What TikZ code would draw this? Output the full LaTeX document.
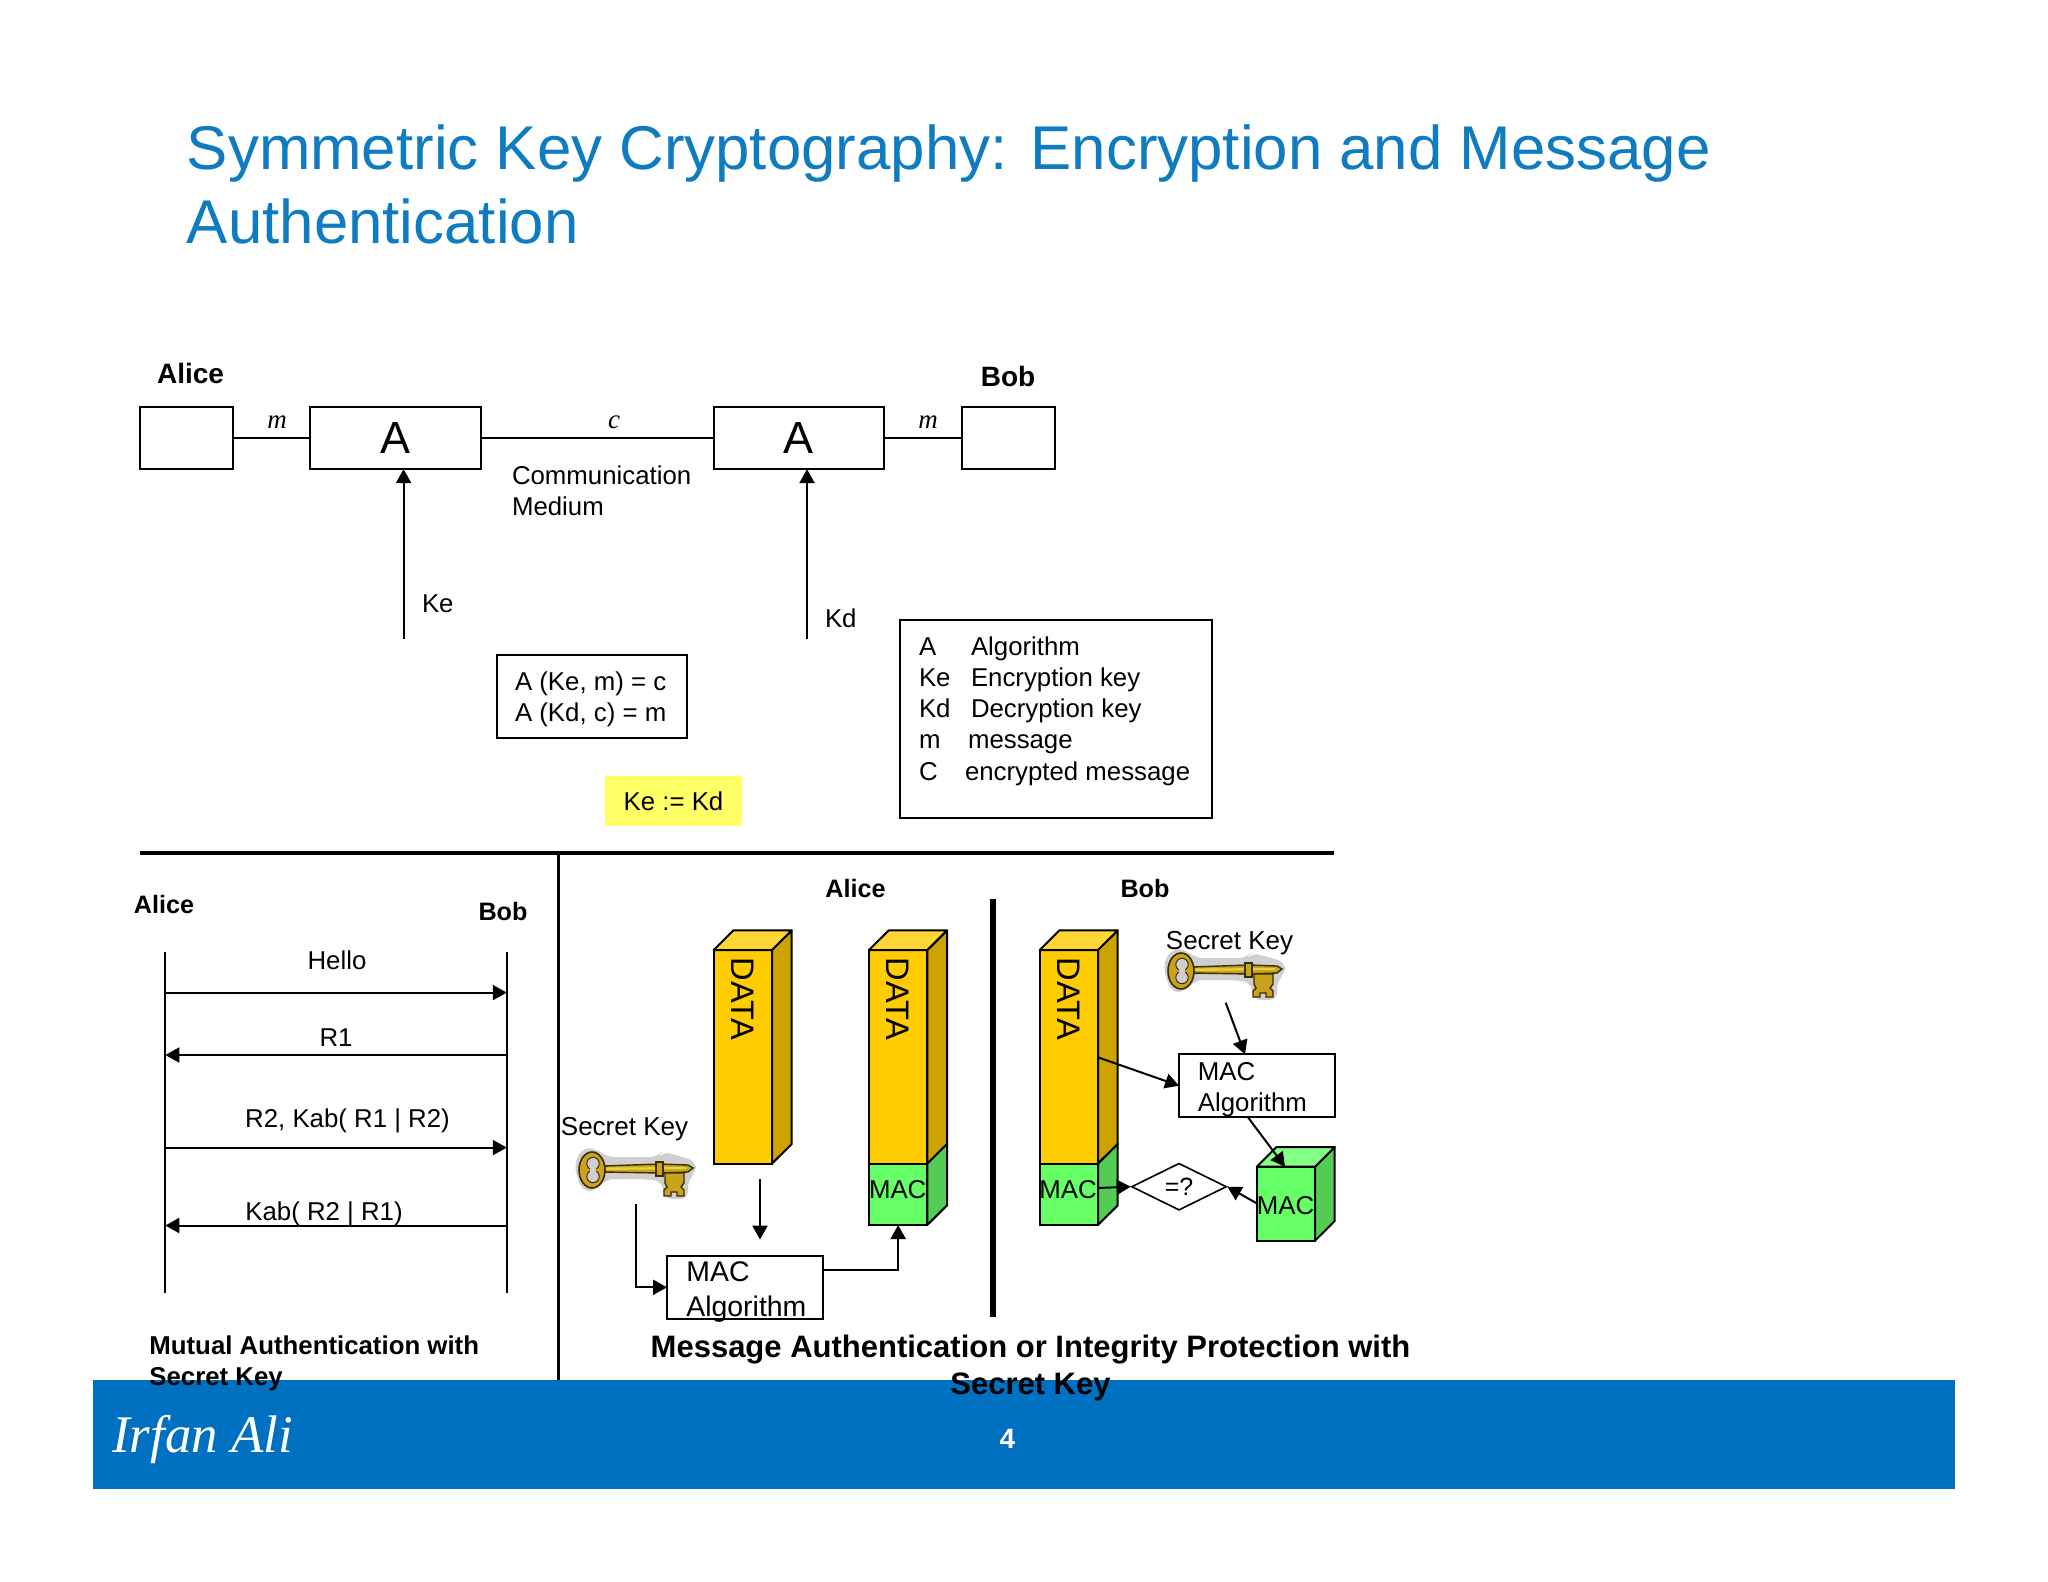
\documentclass[tikz,border=0pt]{standalone}
\usepackage{fontspec}
\setmainfont{Liberation Sans}
\newfontfamily\serifit{Liberation Serif}
\usetikzlibrary{arrows.meta,shapes.geometric,calc}

\definecolor{titleblue}{HTML}{0F7BC0}
\definecolor{banner}{HTML}{0070C0}
\definecolor{notey}{HTML}{FFFF66}
\definecolor{datafront}{HTML}{FFCC00}
\definecolor{datatop}{HTML}{FFD633}
\definecolor{dataside}{HTML}{CCA300}
\definecolor{macfront}{HTML}{66FF66}
\definecolor{mactop}{HTML}{85FF85}
\definecolor{macside}{HTML}{52CC52}
\definecolor{keygold}{HTML}{C9A21E}
\definecolor{keylight}{HTML}{E6D23C}
\definecolor{keydark}{HTML}{3A2C05}
\definecolor{keyhalo}{HTML}{CFCFCF}

\tikzset{
  x=0.5pt, y=-0.5pt,
  box/.style={draw=black, line width=1pt, inner sep=0pt, outer sep=0pt, fill=white},
  conn/.style={draw=black, line width=1pt},
  arr/.style={draw=black, line width=1pt, -{Triangle[length=7pt,width=7.5pt]}},
  lbl/.style={inner sep=0pt, outer sep=0pt, font=\fontsize{12.9pt}{15.5pt}\selectfont, align=left},
  lblc/.style={lbl, anchor=center},
  lblw/.style={lbl, anchor=west},
  lglbl/.style={lbl, anchor=base west},
  person/.style={inner sep=0pt, font=\bfseries\fontsize{14pt}{17pt}\selectfont},
  personsm/.style={inner sep=0pt, font=\bfseries\fontsize{12.6pt}{15pt}\selectfont},
  capt/.style={inner sep=0pt, font=\bfseries\fontsize{12.9pt}{15.5pt}\selectfont, align=left, anchor=west},
  mactext/.style={inner sep=0pt, font=\fontsize{12.9pt}{16pt}\selectfont},
  datatext/.style={inner sep=0pt, rotate=-90, font=\fontsize{16.3pt}{18pt}\selectfont},
  ital/.style={inner sep=0pt, font=\serifit\itshape\fontsize{13.5pt}{16pt}\selectfont},
  face/.style={draw=black, line width=1pt, line join=round},
  key/.pic={
    \fill[keyhalo, rounded corners=4pt] (-2,18) -- (4,1) -- (18,-2) -- (30,8) -- (82,8) -- (86,3)
      -- (96,5) -- (120,12) -- (120,24) -- (112,30) -- (112,50) -- (88,50) -- (86,32) -- (66,30)
      -- (30,30) -- (20,42) -- (6,42) -- cycle;
    \filldraw[fill=keygold, draw=keydark, line width=.7pt] (27,17) -- (84,15) -- (112,16) -- (117,19)
      -- (112,23) -- (84,24) -- (27,23) -- cycle;
    \fill[keylight] (30,18.5) -- (110,18) -- (110,20) -- (30,21) -- cycle;
    \filldraw[fill=keygold, draw=keydark, line width=.7pt] (80,13) -- (87,13) -- (87,27) -- (80,27) -- cycle;
    \filldraw[fill=keygold, draw=keydark, line width=.7pt] (89,24) -- (108,24) -- (108,34) -- (105,38)
      -- (108,41) -- (108,47) -- (101,47) -- (101,43) -- (95,43) -- (95,47) -- (88,47) -- (88,41)
      -- (91,38) -- (89,34) -- cycle;
    \filldraw[fill=keygold, draw=keydark, line width=.8pt] (16,21) ellipse [x radius=6.5pt, y radius=9pt];
    \filldraw[fill=keyhalo, draw=keydark, line width=.5pt] (17,14.5) circle [radius=3.1pt] (17,27.5) circle [radius=3.1pt];
    \fill[keyhalo] (14,12) rectangle (20,30);
  },
}

\begin{document}
\begin{tikzpicture}
\useasboundingbox[fill=white] (0,0) rectangle (2048,1582);

% title
\node[inner sep=0pt, anchor=west, align=left, text=titleblue, font=\fontsize{30.9pt}{37.3pt}\selectfont]
  (title) at (186.5,184.5) {Symmetric Key Cryptography: Encryption and Message\\Authentication};

% symmetric encryption row
\node[person] (alice1) at (190.5,373) {Alice};
\node[person] (bob1) at (1008,376) {Bob};
\node[box, minimum width=46.9pt, minimum height=31.2pt] (src) at (186.5,437.9) {};
\node[box, minimum width=85.3pt, minimum height=31.2pt, font=\fontsize{22.5pt}{26pt}\selectfont] (enc) at (395.5,437.9) {A};
\node[box, minimum width=85pt, minimum height=31.2pt, font=\fontsize{22.5pt}{26pt}\selectfont] (dec) at (798.5,437.9) {A};
\node[box, minimum width=46.5pt, minimum height=31.2pt] (dst) at (1008.7,437.9) {};
\draw[conn] (src) -- (enc);
\draw[conn] (enc) -- (dec);
\draw[conn] (dec) -- (dst);
\node[ital] (m1) at (277,422) {m};
\node[ital] (c1) at (614,422) {c};
\node[ital] (m2) at (928,422) {m};
\node[lblw] (medium) at (512,491) {Communication\\Medium};
\coordinate (kefrom) at (403.6,639);
\coordinate (kdfrom) at (807,639);
\draw[arr] (kefrom) -- (kefrom |- enc.south);
\draw[arr] (kdfrom) -- (kdfrom |- dec.south);
\node[lblw] (ke) at (422,604) {Ke};
\node[lblw] (kd) at (825,618) {Kd};

% equations and legend
\node[box, minimum width=95.2pt, minimum height=41.6pt] (eqbox) at (592.2,696.3) {};
\node[lblw] (eq) at (515,699) {A (Ke, m) = c\\A (Kd, c) = m};
\node[fill=notey, inner sep=0pt, minimum width=68.5pt, minimum height=25pt] (note) at (673.5,801)
  {\fontsize{12.9pt}{15.5pt}\selectfont Ke := Kd};
\node[box, minimum width=156pt, minimum height=99pt] (legend) at (1055.8,719) {};
\node[lglbl] (la) at (919,655) {A};
\node[lglbl] (lb) at (919,686) {Ke};
\node[lglbl] (lc) at (919,717) {Kd};
\node[lglbl] (ld) at (919,748.5) {m};
\node[lglbl] (le) at (919,780) {C};
\node[lglbl] (ta) at (971,655) {Algorithm};
\node[lglbl] (tb) at (971,686) {Encryption key};
\node[lglbl] (tc) at (971,717) {Decryption key};
\node[lglbl] (td) at (968,748.5) {message};
\node[lglbl] (te) at (965,780) {encrypted message};

% dividers
\draw[black, line width=2pt] (139.6,852.6) -- (1334,852.6);
\draw[black, line width=1.8pt] (558.5,852) -- (558.5,1382);
\draw[black, line width=3pt] (992.7,899) -- (992.7,1317);

% mutual authentication
\node[personsm] (alice2) at (164,904.5) {Alice};
\node[personsm] (bob2) at (503,911.5) {Bob};
\coordinate (a0) at (165.3,952);
\coordinate (a1) at (165.3,1293);
\coordinate (b0) at (506.8,952);
\coordinate (b1) at (506.8,1293);
\draw[conn] (a0) -- (a1);
\draw[conn] (b0) -- (b1);
\coordinate (y1) at (0,992.6);
\coordinate (y2) at (0,1055);
\coordinate (y3) at (0,1147.6);
\coordinate (y4) at (0,1225.5);
\draw[arr] (a0 |- y1) -- (b0 |- y1);
\draw[arr] (b0 |- y2) -- (a0 |- y2);
\draw[arr] (a0 |- y3) -- (b0 |- y3);
\draw[arr] (b0 |- y4) -- (a0 |- y4);
\node[lblc] (hello) at (337,960) {Hello};
\node[lblc] (r1) at (336,1038) {R1};
\node[lblc] (r2) at (347.5,1120.5) {R2, Kab( R1 | R2)};
\node[lblc] (kab) at (324,1213.5) {Kab( R2 | R1)};

% message authentication, Alice
\node[personsm] (alice3) at (855.5,888.5) {Alice};
\node[personsm] (bob3) at (1145,888.5) {Bob};
\node[box, fill=datafront, minimum width=29.15pt, minimum height=106.8pt] (d1) at (742.85,1056.8) {};
\filldraw[face, fill=dataside] (d1.north east) -- ++(19.7,-19.6) -- ++(0,213.6) -- (d1.south east) -- cycle;
\filldraw[face, fill=datatop] (d1.north west) -- ++(19.7,-19.6) -- ++(58.3,0) -- (d1.north east) -- cycle;
\node[datatext] (dt1) at (742.3,999) {DATA};

\node[box, fill=datafront, minimum width=29.15pt, minimum height=106.8pt] (d2) at (898.15,1056.8) {};
\filldraw[face, fill=dataside] (d2.north east) -- ++(19.7,-19.6) -- ++(0,213.6) -- (d2.south east) -- cycle;
\filldraw[face, fill=datatop] (d2.north west) -- ++(19.7,-19.6) -- ++(58.3,0) -- (d2.north east) -- cycle;
\node[box, fill=macfront, minimum width=29.15pt, minimum height=30.7pt] (g2) at (898.15,1194.3) {};
\filldraw[face, fill=macside] (g2.north east) -- ++(19.7,-19.6) -- ++(0,61.4) -- (g2.south east) -- cycle;
\node[datatext] (dt2) at (897.6,999) {DATA};
\node[mactext] (mt2) at (897.7,1190) {MAC};

\node[lblc, font=\fontsize{13pt}{15pt}\selectfont] (sk1) at (624.5,1129.5) {Secret Key};
\pic at (576,1149) {key};
\node[box, minimum width=77.8pt, minimum height=31.3pt] (alg1) at (744.8,1287.3) {};
\node[mactext, anchor=west, align=left, font=\fontsize{14.2pt}{17.3pt}\selectfont] (algt1) at (686,1292) {MAC\\Algorithm};
\coordinate (datadown) at (760,1179);
\coordinate (downend) at (760,1239.6);
\coordinate (keydown) at (636.3,1204);
\draw[arr] (datadown) -- (downend);
\draw[arr] (keydown) |- (alg1.west);
\draw[arr] ($(alg1.north east)!0.22!(alg1.south east)$) -| (g2.south);

% message authentication, Bob
\node[box, fill=datafront, minimum width=29.15pt, minimum height=106.8pt] (d3) at (1068.85,1056.8) {};
\filldraw[face, fill=dataside] (d3.north east) -- ++(19.7,-19.6) -- ++(0,213.6) -- (d3.south east) -- cycle;
\filldraw[face, fill=datatop] (d3.north west) -- ++(19.7,-19.6) -- ++(58.3,0) -- (d3.north east) -- cycle;
\node[box, fill=macfront, minimum width=29.15pt, minimum height=30.7pt] (g3) at (1068.85,1194.3) {};
\filldraw[face, fill=macside] (g3.north east) -- ++(19.7,-19.6) -- ++(0,61.4) -- (g3.south east) -- cycle;
\node[datatext] (dt3) at (1068.3,999) {DATA};
\node[mactext] (mt3) at (1068,1189.5) {MAC};

\pic at (1165,950) {key};
\node[lblc, font=\fontsize{13pt}{15pt}\selectfont] (sk2) at (1229.5,943.5) {Secret Key};
\node[box, minimum width=77.8pt, minimum height=31.4pt] (alg2) at (1256.9,1085.7) {};
\node[mactext, anchor=west, align=left, font=\fontsize{12.9pt}{15.5pt}\selectfont] (algt2) at (1197.5,1090) {MAC\\Algorithm};

\node[box, fill=macfront, minimum width=29.15pt, minimum height=37pt] (m3) at (1285.85,1203.7) {};
\filldraw[face, fill=macside] (m3.north east) -- ++(19.7,-19.6) -- ++(0,74) -- (m3.south east) -- cycle;
\filldraw[face, fill=mactop] (m3.north west) -- ++(19.7,-19.6) -- ++(58.3,0) -- (m3.north east) -- cycle;
\node[mactext] (mt4) at (1285.5,1205.5) {MAC};

\node[diamond, draw=black, line width=.8pt, fill=white, inner sep=0pt, aspect=2, minimum width=47.5pt, minimum height=23.5pt] (cmp) at (1179,1186.7)
  {\fontsize{12.5pt}{15pt}\selectfont =?};

\coordinate (keyto) at (1225.7,1002.7);
\coordinate (algtop) at (1245,1054.3);
\coordinate (datafrom) at (1098,1057.3);
\coordinate (algbot) at (1247.7,1117);
\coordinate (cubein) at (1285,1166.7);
\coordinate (macfrom) at (1098,1188);
\coordinate (cubeout) at (1256.7,1203.3);
\draw[arr] (keyto) -- (algtop);
\draw[arr] (datafrom) -- (alg2.west);
\draw[arr] (algbot) -- (cubein);
\draw[arr] (cubeout) -- (cmp.east);
\draw[arr] (macfrom) -- (cmp.west);

% banner
\fill[banner] (93,1380) rectangle (1955,1489);
\node[anchor=west, inner sep=0pt, text=white, font=\serifit\itshape\fontsize{26.4pt}{30pt}\selectfont] (brand) at (112,1440) {Irfan Ali};
\node[inner sep=0pt, text=white, font=\bfseries\fontsize{14pt}{17pt}\selectfont] (pageno) at (1007.5,1439) {4};

% captions over the banner
\node[capt] (cap1) at (149,1363) {Mutual Authentication with\\Secret Key};
\node[inner sep=0pt, align=center, font=\bfseries\fontsize{15.5pt}{18.5pt}\selectfont] (cap2) at (1030.5,1367.5) {Message Authentication or Integrity Protection with\\Secret Key};
\end{tikzpicture}
\end{document}
